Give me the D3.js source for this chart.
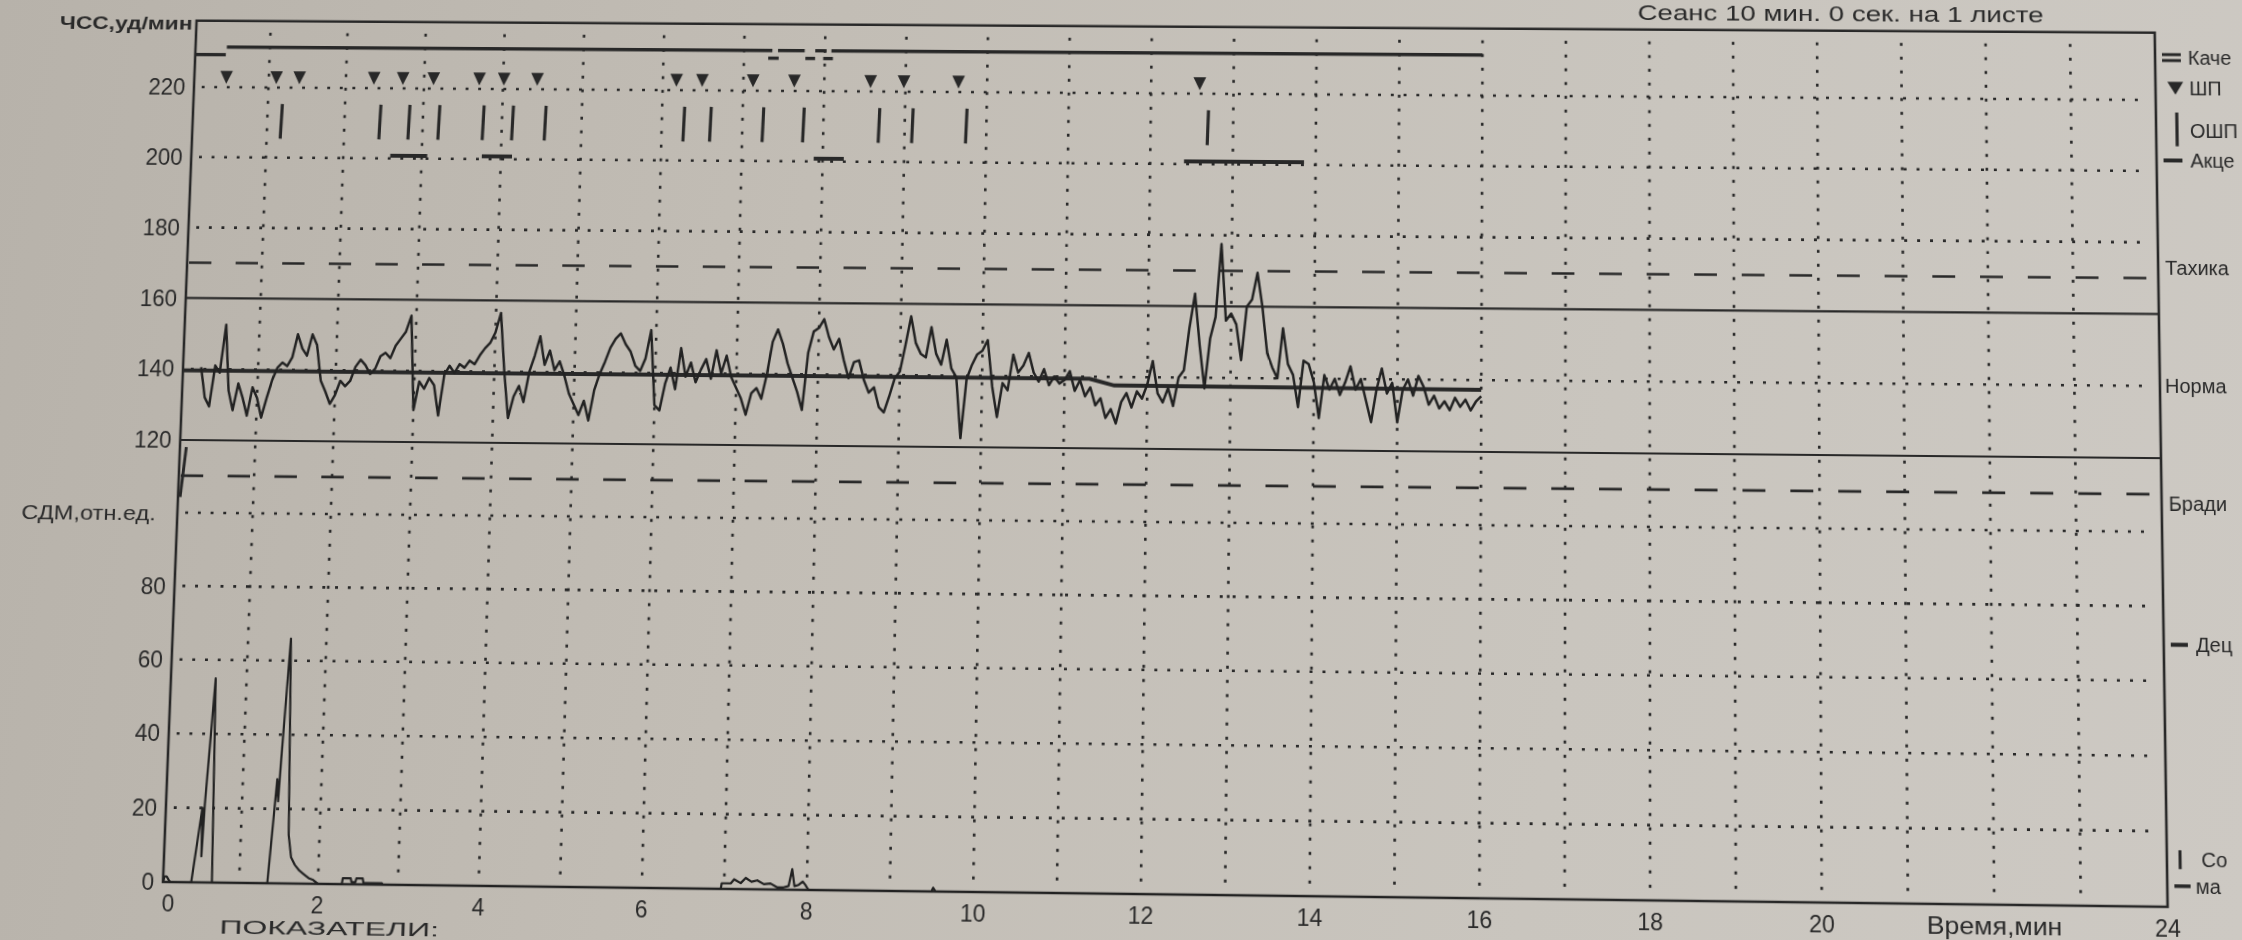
<!DOCTYPE html>
<html>
<head>
<meta charset="utf-8">
<title>КТГ</title>
<script src="https://cdn.jsdelivr.net/npm/d3@7"></script>
<style>
  html, body { margin: 0; padding: 0; width: 2242px; height: 940px; overflow: hidden;
    background: linear-gradient(100deg, #b7b2aa 0%, #c2bdb5 35%, #c9c5be 70%, #cdc9c3 100%); }
  #chart { position: absolute; left: 0; top: 0; overflow: visible; transform-origin: 0 0; }
  text { font-family: "Liberation Sans", Arial, sans-serif; fill: #2a2a2a; }
</style>
</head>
<body>
<svg id="chart" width="2242" height="940"></svg>
<script>

// ---- data ----
var hrTicks = [220, 200, 180, 160, 140, 120];
var sdmTicks = [80, 60, 40, 20, 0];
var timeTicks = [0, 2, 4, 6, 8, 10, 12, 14, 16, 18, 20, 24];
var hrDotted = [220, 200, 180, 140];
var hrSolid = [160, 120];
var hrDashed = [170, 110];
var sdmDotted = [100, 80, 60, 40, 20];

// ЧСС, one sample every 1/16 min from 0.25 min
var hrStart = 0.25, hrStep = 0.0625;
var hrValues = [
  140.5, 132, 129.5, 141, 139, 152.5, 134, 128.5, 136, 132, 127, 135,
  132, 126.5, 132, 137, 140.5, 142, 141, 143.5, 150, 146, 144, 150, 147, 137, 134, 130.5,
  133, 137, 135.5, 137, 141, 143, 141.5, 139, 140.5, 144, 145, 143.5, 147, 149, 151, 155.5,
  129, 137, 135, 138, 136, 127.5, 139, 141.5, 139.5, 142, 141, 143, 142, 144.5, 146.5, 148,
  151, 156.5, 140, 127, 133, 136, 131.5, 140, 144.5, 150, 142, 146, 140.5, 143, 139, 134,
  131, 128, 132, 126.5, 135, 139.5, 143, 147, 149.5, 151, 148, 146, 142, 140.5, 144, 152,
  131, 129.5, 137, 141.5, 135.5, 147, 139, 143, 137.5, 141, 144, 138.5, 146.5, 140, 145, 139,
  136, 133, 128.5, 134.5, 136, 133, 140, 149, 152.5, 148.5, 143, 139, 135, 130, 146, 152,
  153, 155.5, 150.5, 147, 150, 144, 139, 143.5, 144, 138.5, 135, 136.5, 131, 129.5, 134, 139,
  141, 148.5, 156.5, 149, 146, 145, 153.5, 146, 143, 150, 142, 139.5, 122.5, 139, 143, 146,
  147, 150, 137, 128.5, 138, 136, 146, 141, 143, 146.5, 141, 138.5, 142, 137.5, 140, 138,
  139, 141.5, 136, 139, 134.5, 137, 132, 134, 128.5, 131, 127, 133, 135.5, 131.5, 136, 134,
  138, 144.5, 135.5, 133, 137, 132, 140, 142, 154, 163.5, 149, 137, 151, 157, 177.5, 156,
  158, 155, 145, 160, 162, 169.5, 160, 147, 143, 140, 154, 144, 141, 132, 145, 144,
  139, 129, 141, 137, 140, 135.5, 139, 143.5, 137, 140, 134, 128, 137, 143, 136, 139,
  128, 137, 140, 135.5, 141, 138, 133, 135.5, 132, 134, 131.5, 135, 132.5, 134.5, 131.5, 134,
  135.5
];
var hrPreTime = [0.09, 0.03];
var hrPreValue = [118, 104];

var baseTime = [0, 11.3, 11.6, 16];
var baseValue = [139.6, 139.4, 137.6, 137.3];

var qualStart = [0, 0.43, 7.3, 7.42, 7.76, 7.88, 7.98, 8.08];
var qualEnd   = [0.42, 7.35, 7.43, 7.75, 7.88, 8.02, 8.1, 16];
var qualLevel = [229.3, 231.5, 229.3, 231.5, 229.3, 231.5, 229.3, 231.5];

var shpTime = [0.44, 1.10, 1.40, 2.36, 2.73, 3.12, 3.70, 4.01, 4.43, 6.17, 6.49, 7.12, 7.63, 8.57, 8.98, 9.65, 12.59];
var oshpTime = [1.19, 2.46, 2.83, 3.21, 3.77, 4.14, 4.55, 6.28, 6.61, 7.26, 7.76, 8.69, 9.10, 9.76, 12.70];
var accStart = [2.6, 3.76, 7.89, 12.41];
var accEnd   = [3.07, 4.14, 8.26, 13.86];

var sdmTime = [0, 0.02, 0.05, 0.08, 0.1, 0.38, 0.49, 0.5, 0.52, 0.6, 0.65, 1.36, 1.44, 1.46, 1.48,
  1.55, 1.61, 1.65, 1.7, 1.76, 1.82, 1.88, 1.94, 2.0, 2.3, 2.31, 2.41, 2.42, 2.47, 2.48, 2.56, 2.57,
  2.8, 2.81, 6.96, 6.97, 7.08, 7.12, 7.2, 7.26, 7.33, 7.4, 7.48, 7.56, 7.64, 7.72, 7.78, 7.82, 7.85,
  7.9, 7.95, 7.98, 8.02, 9.5, 9.52, 9.55, 16];
var sdmValue = [0, 1.5, 1.5, 0.5, 0, 0, 20, 7, 21, 55, 0, 0, 28, 22, 33,
  66, 13, 7, 5, 3.5, 2.5, 1.5, 1, 0, 0, 1.6, 1.6, 0.6, 0.6, 1.6, 1.6, 0.4,
  0.4, 0, 0, 1.5, 1.5, 2.6, 1.6, 3, 2, 2.4, 1.4, 1.6, 0.6, 0.6, 1, 5.5, 1,
  1.3, 2.2, 1.4, 0, 0, 1, 0, 0];

// ---- scales ----
var INK = "#282828";
var x = d3.scalePow().exponent(1.025).domain([0, 24]).range([163, 2168]);
var yHR = d3.scaleLinear().domain([120, 220]).range([442, 83]);
var yS = d3.scaleLinear().domain([0, 100]).range([882, 515]);

var fLeft = x(0), fRight = x(24), fTop = yHR(239), fBottom = yS(0);

var svg = d3.select("#chart");
var g = svg.append("g");

// grid: dotted minutes
g.selectAll(".vgrid").data(d3.range(1, 24)).enter().append("line")
  .attr("x1", function(d) { return x(d); }).attr("x2", function(d) { return x(d); })
  .attr("y1", fTop + 12).attr("y2", fBottom - 4)
  .attr("stroke", INK).attr("stroke-width", 2.6).attr("stroke-dasharray", "3,11");

g.selectAll(".hdot").data(hrDotted).enter().append("line")
  .attr("x1", fLeft + 8).attr("x2", fRight - 10)
  .attr("y1", function(d) { return yHR(d); }).attr("y2", function(d) { return yHR(d); })
  .attr("stroke", INK).attr("stroke-width", 2.6).attr("stroke-dasharray", "3,10");

g.selectAll(".sdot").data(sdmDotted).enter().append("line")
  .attr("x1", fLeft + 8).attr("x2", fRight - 10)
  .attr("y1", function(d) { return yS(d); }).attr("y2", function(d) { return yS(d); })
  .attr("stroke", INK).attr("stroke-width", 2.6).attr("stroke-dasharray", "3,10");

g.selectAll(".hdash").data(hrDashed).enter().append("line")
  .attr("x1", fLeft + 2).attr("x2", fRight - 10)
  .attr("y1", function(d) { return yHR(d); }).attr("y2", function(d) { return yHR(d); })
  .attr("stroke", INK).attr("stroke-width", 2.6).attr("stroke-dasharray", "23,25");

g.selectAll(".hsolid").data(hrSolid).enter().append("line")
  .attr("x1", fLeft).attr("x2", fRight)
  .attr("y1", function(d) { return yHR(d); }).attr("y2", function(d) { return yHR(d); })
  .attr("stroke", INK).attr("stroke-width", 2.2);

// frame
g.append("path")
  .attr("d", "M" + fLeft + "," + fBottom + "V" + fTop + "H" + fRight + "V" + fBottom + "Z")
  .attr("fill", "none").attr("stroke", INK).attr("stroke-width", 2.6);

// signal quality
g.selectAll(".qual").data(qualStart).enter().append("line")
  .attr("x1", function(d) { return x(d); })
  .attr("x2", function(d, i) { return x(qualEnd[i]); })
  .attr("y1", function(d, i) { return yHR(qualLevel[i]); })
  .attr("y2", function(d, i) { return yHR(qualLevel[i]); })
  .attr("stroke", INK).attr("stroke-width", 3.4);

// ШП triangles
g.selectAll(".shp").data(shpTime).enter().append("path")
  .attr("d", function(d) {
    var cx = x(d);
    return "M" + (cx - 6.5) + "," + yHR(224.7) + "L" + (cx + 6.5) + "," + yHR(224.7) + "L" + cx + "," + yHR(221) + "Z";
  })
  .attr("fill", INK);

// ОШП bars
g.selectAll(".oshp").data(oshpTime).enter().append("line")
  .attr("x1", function(d) { return x(d); }).attr("x2", function(d) { return x(d) - 1; })
  .attr("y1", yHR(215.3)).attr("y2", yHR(205.4))
  .attr("stroke", INK).attr("stroke-width", 3.2);

// accelerations
g.selectAll(".acc").data(accStart).enter().append("line")
  .attr("x1", function(d) { return x(d); })
  .attr("x2", function(d, i) { return x(accEnd[i]); })
  .attr("y1", yHR(200.8)).attr("y2", yHR(200.8))
  .attr("stroke", INK).attr("stroke-width", 4);

// baseline
var baseLine = d3.line()
  .x(function(d, i) { return x(baseTime[i]); })
  .y(function(d) { return yHR(d); });
g.append("path").attr("d", baseLine(baseValue))
  .attr("fill", "none").attr("stroke", INK).attr("stroke-width", 4);

// FHR trace
var hrLine = d3.line()
  .x(function(d, i) { return x(hrStart + i * hrStep); })
  .y(function(d) { return yHR(d); });
g.append("path").attr("d", hrLine(hrValues))
  .attr("fill", "none").attr("stroke", "#222").attr("stroke-width", 2.5).attr("stroke-linejoin", "round");

var preLine = d3.line()
  .x(function(d, i) { return x(hrPreTime[i]); })
  .y(function(d) { return yHR(d); });
g.append("path").attr("d", preLine(hrPreValue))
  .attr("fill", "none").attr("stroke", INK).attr("stroke-width", 3);

// uterine activity trace
var sdmLine = d3.line()
  .x(function(d, i) { return x(sdmTime[i]); })
  .y(function(d) { return yS(d); });
g.append("path").attr("d", sdmLine(sdmValue))
  .attr("fill", "none").attr("stroke", "#222").attr("stroke-width", 2.2).attr("stroke-linejoin", "round");

// axis labels
g.selectAll(".hrlab").data(hrTicks).enter().append("text")
  .attr("x", fLeft - 9).attr("y", function(d) { return yHR(d); }).attr("dy", "0.36em")
  .attr("text-anchor", "end").attr("font-size", 23).text(function(d) { return d; });

g.selectAll(".sdmlab").data(sdmTicks).enter().append("text")
  .attr("x", fLeft - 9).attr("y", function(d) { return yS(d); }).attr("dy", "0.36em")
  .attr("text-anchor", "end").attr("font-size", 23).text(function(d) { return d; });

g.selectAll(".tlab").data(timeTicks).enter().append("text")
  .attr("x", function(d) { return d === 0 ? x(d) + 6 : x(d); })
  .attr("y", fBottom + 29)
  .attr("text-anchor", "middle").attr("font-size", 23).text(function(d) { return d; });

g.append("text").attr("x", fLeft - 4).attr("y", fTop + 9.5)
  .attr("text-anchor", "end").attr("font-size", 19).attr("font-weight", "bold")
  .attr("textLength", 138).attr("lengthAdjust", "spacingAndGlyphs")
  .text("ЧСС,уд/мин");

g.append("text").attr("x", fLeft - 22).attr("y", yS(100)).attr("dy", "0.36em")
  .attr("text-anchor", "end").attr("font-size", 21)
  .attr("textLength", 138).attr("lengthAdjust", "spacingAndGlyphs")
  .text("СДМ,отн.ед.");

g.append("text").attr("x", x(22)).attr("y", fBottom + 29)
  .attr("text-anchor", "middle").attr("font-size", 24)
  .attr("textLength", 134).attr("lengthAdjust", "spacingAndGlyphs")
  .text("Время,мин");

g.append("text").attr("x", 222).attr("y", fBottom + 50)
  .attr("font-size", 19).attr("textLength", 222).attr("lengthAdjust", "spacingAndGlyphs")
  .text("ПОКАЗАТЕЛИ:");

g.append("text").attr("x", fRight - 112).attr("y", fTop - 10)
  .attr("text-anchor", "end").attr("font-size", 22)
  .attr("textLength", 412).attr("lengthAdjust", "spacingAndGlyphs")
  .text("Сеанс 10 мин. 0 сек. на 1 листе");

// legend on the right edge (only the part that fits on the sheet)
var lg = g.append("g").attr("transform", "translate(" + fRight + ",0)");
lg.append("line").attr("x1", 7).attr("x2", 26).attr("y1", yHR(232) - 3).attr("y2", yHR(232) - 3)
  .attr("stroke", INK).attr("stroke-width", 3);
lg.append("line").attr("x1", 7).attr("x2", 26).attr("y1", yHR(232) + 3).attr("y2", yHR(232) + 3)
  .attr("stroke", INK).attr("stroke-width", 3);
lg.append("text").attr("x", 33).attr("y", yHR(232)).attr("dy", "0.36em").attr("font-size", 20).text("Каче");

lg.append("path").attr("d", "M12," + (yHR(223.5) - 6) + "L28," + (yHR(223.5) - 6) + "L20," + (yHR(223.5) + 7) + "Z").attr("fill", INK);
lg.append("text").attr("x", 34).attr("y", yHR(223.5)).attr("dy", "0.36em").attr("font-size", 20).text("ШП");

lg.append("line").attr("x1", 21).attr("x2", 21).attr("y1", yHR(216.5)).attr("y2", yHR(207))
  .attr("stroke", INK).attr("stroke-width", 3.2);
lg.append("text").attr("x", 34).attr("y", yHR(211.5)).attr("dy", "0.36em").attr("font-size", 20).text("ОШП");

lg.append("line").attr("x1", 7).attr("x2", 26).attr("y1", yHR(203)).attr("y2", yHR(203))
  .attr("stroke", INK).attr("stroke-width", 4);
lg.append("text").attr("x", 34).attr("y", yHR(203)).attr("dy", "0.36em").attr("font-size", 20).text("Акце");

lg.append("text").attr("x", 7).attr("y", yHR(173)).attr("dy", "0.36em").attr("font-size", 20).text("Тахика");
lg.append("text").attr("x", 5).attr("y", yHR(140)).attr("dy", "0.36em").attr("font-size", 20).text("Норма");
lg.append("text").attr("x", 7).attr("y", yHR(107.5)).attr("dy", "0.36em").attr("font-size", 20).text("Бради");

lg.append("line").attr("x1", 7).attr("x2", 24).attr("y1", yS(69.7)).attr("y2", yS(69.7))
  .attr("stroke", INK).attr("stroke-width", 4);
lg.append("text").attr("x", 32).attr("y", yS(69.7)).attr("dy", "0.36em").attr("font-size", 20).text("Дец");

lg.append("line").attr("x1", 13).attr("x2", 13).attr("y1", yS(15)).attr("y2", yS(10))
  .attr("stroke", INK).attr("stroke-width", 3);
lg.append("text").attr("x", 34).attr("y", yS(12.5)).attr("dy", "0.36em").attr("font-size", 20).text("Со");

lg.append("line").attr("x1", 7).attr("x2", 23).attr("y1", yS(5.5)).attr("y2", yS(5.5))
  .attr("stroke", INK).attr("stroke-width", 3.5);
lg.append("text").attr("x", 28).attr("y", yS(5.5)).attr("dy", "0.36em").attr("font-size", 20).text("ма");

// ---- photo perspective: flat chart corners -> where they sit in the photo ----
function solve(A, b) {
  var n = b.length;
  var M = A.map(function(row, i) { return row.concat([b[i]]); });
  for (var c = 0; c < n; c++) {
    var p = c;
    for (var r = c + 1; r < n; r++) if (Math.abs(M[r][c]) > Math.abs(M[p][c])) p = r;
    var tmp = M[c]; M[c] = M[p]; M[p] = tmp;
    for (var r2 = 0; r2 < n; r2++) {
      if (r2 === c) continue;
      var f = M[r2][c] / M[c][c];
      for (var k = c; k <= n; k++) M[r2][k] -= f * M[c][k];
    }
  }
  return M.map(function(row, i) { return row[n] / row[i]; });
}

function photoTransform(src, dst) {
  var A = [], b = [];
  src.forEach(function(s, i) {
    var X = s[0], Y = s[1], u = dst[i][0], v = dst[i][1];
    A.push([X, Y, 1, 0, 0, 0, -X * u, -Y * u]); b.push(u);
    A.push([0, 0, 0, X, Y, 1, -X * v, -Y * v]); b.push(v);
  });
  var h = solve(A, b);
  return "matrix3d(" + [h[0], h[3], 0, h[6], h[1], h[4], 0, h[7], 0, 0, 1, 0, h[2], h[5], 0, 1].join(",") + ")";
}

var flatCorners = [[x(0), yHR(220)], [x(24), yHR(220)], [x(0), yS(0)], [x(24), yS(0)]];
var photoCorners = [[194, 87], [2156, 100], [163, 882], [2168, 907]];
svg.style("transform", photoTransform(flatCorners, photoCorners));

</script>
</body>
</html>
